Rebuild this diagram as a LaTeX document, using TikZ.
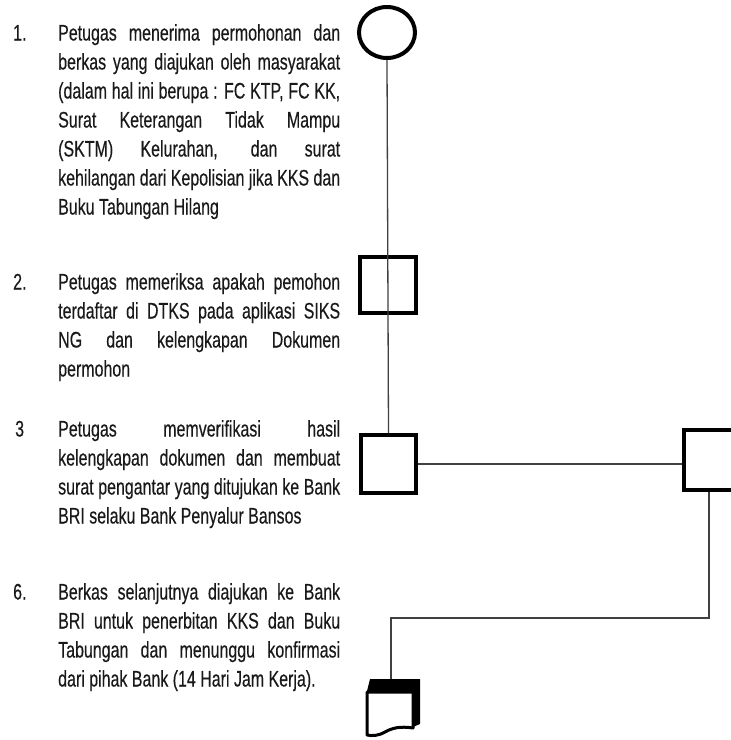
\documentclass[tikz,border=0pt]{standalone}
\usepackage{fontspec}
\setmainfont[FakeStretch=0.71,FakeBold=0.3]{Liberation Sans}
\usetikzlibrary{shapes.geometric}
\newcommand\jline[1]{\makebox[282pt][s]{#1}}
\begin{document}
\begin{tikzpicture}[x=1pt,y=-1pt,
  txt/.style={anchor=north west, inner sep=0pt, align=left, font=\fontsize{22.5}{29}\selectfont, text=black!90},
  num/.style={anchor=base west, inner sep=0pt, font=\fontsize{22.5}{29}\selectfont, text=black!90},
  sym/.style={draw=black, line width=4pt, inner sep=0pt},
  conn/.style={draw=black!75, line width=1.3pt}]
\clip (0,0) rectangle (731,740);
\fill[white] (0,0) rectangle (731,740);

% texts
\node[txt] (t1) at (58,24) {\jline{Petugas menerima permohonan dan}\\
\jline{berkas yang diajukan oleh masyarakat}\\
\jline{(dalam hal ini berupa : FC KTP, FC KK,}\\
\jline{Surat Keterangan Tidak Mampu}\\
\jline{(SKTM) Kelurahan, dan surat}\\
\jline{kehilangan dari Kepolisian jika KKS dan}\\
Buku Tabungan Hilang};
\node[num] (n1) at (13,40.5) {1.};

\node[txt] (t2) at (58,273) {\jline{Petugas memeriksa apakah pemohon}\\
\jline{terdaftar di DTKS pada aplikasi SIKS}\\
\jline{NG dan kelengkapan Dokumen}\\
permohon};
\node[num] (n2) at (13,289.5) {2.};

\node[txt] (t3) at (58,420) {\jline{Petugas memverifikasi hasil}\\
\jline{kelengkapan dokumen dan membuat}\\
\jline{surat pengantar yang ditujukan ke Bank}\\
BRI selaku Bank Penyalur Bansos};
\node[num] (n3) at (15,436.5) {3};

\node[txt] (t6) at (58,583) {\jline{Berkas selanjutnya diajukan ke Bank}\\
\jline{BRI untuk penerbitan KKS dan Buku}\\
\jline{Tabungan dan menunggu konfirmasi}\\
dari pihak Bank (14 Hari Jam Kerja).};
\node[num] (n6) at (13,599.5) {6.};

% symbols
\node[sym, ellipse, minimum width=56pt, minimum height=51pt] (start) at (387,32.5) {};
\node[sym, rectangle, minimum width=56pt, minimum height=56pt] (b2) at (388,285) {};
\node[sym, rectangle, minimum width=55pt, minimum height=58pt] (b3) at (388.5,464) {};
\node[sym, rectangle, minimum width=50pt, minimum height=60pt] (rb) at (709,460) {};

% multi-document
\fill[black] (367,691) -- (370,679) -- (420,679) -- (420,724) -- (413,727) -- (413,691) -- cycle;
\draw[line width=3pt, fill=white, line join=round] (367,692) -- (413,692) -- (413,728)
  .. controls (400,726) and (392,728) .. (385,732)
  .. controls (378,736) and (372,736) .. (367,735) -- cycle;
\coordinate (doc) at (391,679);
\coordinate (turn) at (391,618);

% connectors
\draw[conn] (start.south) -- (b3.north);
\draw[conn] (b3.east) -- (rb.west |- b3.east);
\draw[conn] (rb.south) |- (turn) -- (doc);
\end{tikzpicture}
\end{document}
